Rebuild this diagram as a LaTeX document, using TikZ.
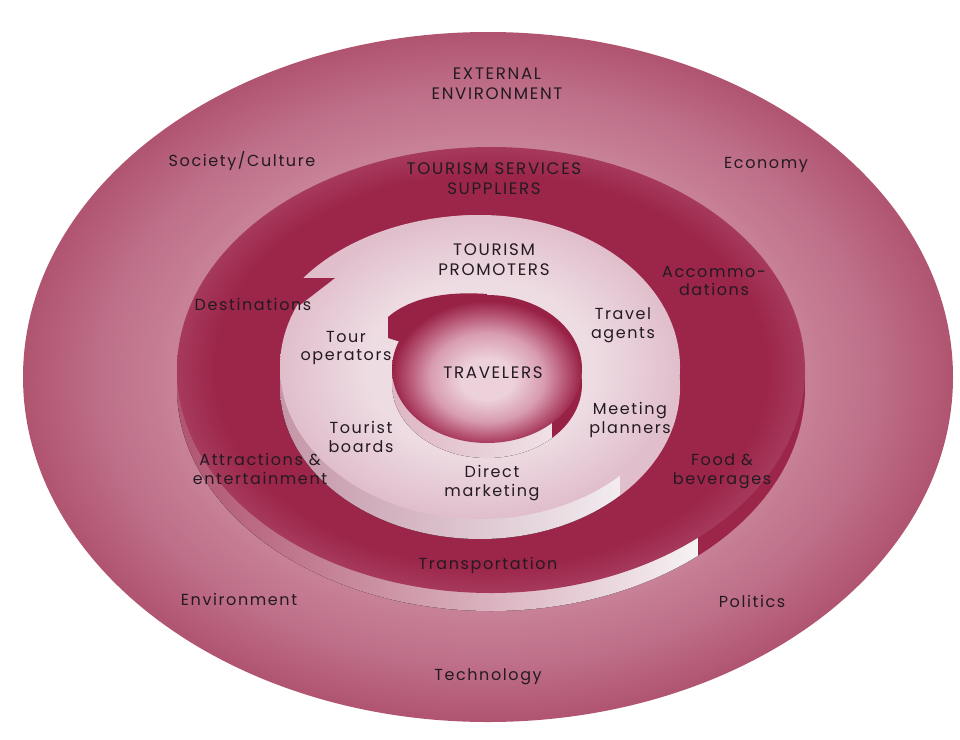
\documentclass[tikz,border=0pt]{standalone}
\usepackage{fontspec}
\newfontfamily\lblfont{Poppins}[LetterSpace=10]
\definecolor{txt}{RGB}{36,26,34}
\definecolor{outA}{RGB}{202,134,155}
\definecolor{outB}{RGB}{190,110,136}
\definecolor{outC}{RGB}{176,84,112}
\definecolor{drkB}{RGB}{156,38,74}
\definecolor{drkC}{RGB}{166,58,92}
\definecolor{lgtA}{RGB}{238,220,227}
\definecolor{lgtB}{RGB}{224,190,203}
\definecolor{sphA}{RGB}{236,208,218}
\definecolor{sphB}{RGB}{216,156,177}
\definecolor{sphC}{RGB}{180,80,112}
\definecolor{sphD}{RGB}{152,34,70}
\definecolor{bandL}{RGB}{176,84,112}
\definecolor{bandM}{RGB}{212,164,180}
\definecolor{bandR}{RGB}{246,242,244}
\definecolor{bandtwoL}{RGB}{196,150,168}
\definecolor{bandtwoR}{RGB}{242,236,239}
\definecolor{bandthrL}{RGB}{222,182,196}
\definecolor{bandthrR}{RGB}{240,226,231}
\pgfdeclareradialshading{outershade}{\pgfpoint{0bp}{0bp}}{color(0bp)=(outA); color(16bp)=(outA); color(21bp)=(outB); color(25bp)=(outC); color(50bp)=(outC)}
\pgfdeclareradialshading{darkshade}{\pgfpoint{0bp}{0bp}}{color(0bp)=(drkB); color(16bp)=(drkB); color(22bp)=(drkB); color(25bp)=(drkC); color(50bp)=(drkC)}
\pgfdeclareradialshading{lightshade}{\pgfpoint{0bp}{0bp}}{color(0bp)=(lgtA); color(14bp)=(lgtA); color(25bp)=(lgtB); color(50bp)=(lgtB)}
\pgfdeclareradialshading{sphereshade}{\pgfpoint{0bp}{-4bp}}{color(0bp)=(sphA); color(7bp)=(sphA); color(15bp)=(sphB); color(21bp)=(sphC); color(25bp)=(sphD); color(50bp)=(sphD)}
\tikzset{
  lbl/.style={font=\lblfont\fontsize{12}{14}\selectfont, text=txt, align=center, inner sep=0pt},
  capslbl/.style={font=\lblfont\fontsize{12.5}{15}\selectfont, text=txt, align=center, inner sep=0pt}
}
\begin{document}
\begin{tikzpicture}[x=0.75pt,y=-0.75pt]
\useasboundingbox (0,0) rectangle (960,739);
\fill[white] (0,0) rectangle (960,739);
% external environment
\path[shading=outershade] (488,377) ellipse [x radius=465, y radius=345];
% tourism services suppliers (dark ring) with side band and step
\begin{scope}
  \clip (491,388) ellipse [x radius=314, y radius=223];
  \clip (0,0) rectangle (698,739);
  \fill[left color=bandL, middle color=bandM, right color=bandR] (177,360) rectangle (698,615);
\end{scope}
\begin{scope}
  \clip (491,388) ellipse [x radius=314, y radius=223];
  \clip (698,0) rectangle (960,739);
  \fill[drkB] (600,300) rectangle (960,739);
\end{scope}
\path[shading=darkshade] (491,370) ellipse [x radius=314, y radius=223];
% tourism promoters (light region)
\begin{scope}
  \clip (480,387) ellipse [x radius=200, y radius=152];
  \clip (0,0) rectangle (620,739);
  \fill[left color=bandtwoL, right color=bandtwoR] (280,360) rectangle (620,545);
\end{scope}
\begin{scope}
  \clip (480,387) ellipse [x radius=200, y radius=152];
  \clip (620,0) rectangle (960,739);
  \fill[lgtB] (600,300) rectangle (720,560);
\end{scope}
\begin{scope}
  \clip (480,367) ellipse [x radius=218, y radius=152];
  \clip (0,0) rectangle (480,278);
  \fill[lgtB] (250,200) rectangle (480,278);
\end{scope}
\path[shading=lightshade] (480,367) ellipse [x radius=200, y radius=152];
\fill[drkB] (296,278) -- (335,278) -- (300,305) -- (296,300) -- cycle;
% travelers (sphere)
\begin{scope}
  \clip (487,384) ellipse [x radius=95, y radius=74];
  \clip (0,0) rectangle (552,739);
  \fill[left color=bandthrL, right color=bandthrR] (392,370) rectangle (552,460);
\end{scope}
\begin{scope}
  \clip (487,384) ellipse [x radius=95, y radius=74];
  \clip (552,0) rectangle (960,739);
  \fill[sphD] (540,360) rectangle (600,470);
\end{scope}
\fill[sphD] (388,338) -- (388,317) .. controls (410,298) and (445,291) .. (487,294) -- (487,369) -- cycle;
\path[shading=sphereshade] (487,369) ellipse [x radius=95, y radius=74];
% labels
\node[capslbl] (ext) at (497,84) {EXTERNAL\\ENVIRONMENT};
\node[lbl] (soc) at (242,161) {Society/Culture};
\node[lbl] (eco) at (766,165) {Economy};
\node[capslbl] (tss) at (494,179) {TOURISM SERVICES\\SUPPLIERS};
\node[capslbl] (tp) at (494,260) {TOURISM\\PROMOTERS};
\node[lbl] (dest) at (253,304) {Destinations};
\node[lbl] (acc) at (714,281) {Accommo-\\dations};
\node[lbl] (ta) at (623,325) {Travel\\agents};
\node[lbl] (to) at (346,348) {Tour\\operators};
\node[capslbl] (trv) at (493,373) {TRAVELERS};
\node[lbl] (mp) at (630,420) {Meeting\\planners};
\node[lbl] (tb) at (361,437) {Tourist\\boards};
\node[lbl] (ae) at (260,469) {Attractions \&\\entertainment};
\node[lbl] (fb) at (722,471) {Food \&\\beverages};
\node[lbl] (dm) at (492,483) {Direct\\marketing};
\node[lbl] (tr) at (488,565) {Transportation};
\node[lbl] (env) at (239,599) {Environment};
\node[lbl] (pol) at (752,601) {Politics};
\node[lbl] (tech) at (488,677) {Technology};
\end{tikzpicture}
\end{document}
